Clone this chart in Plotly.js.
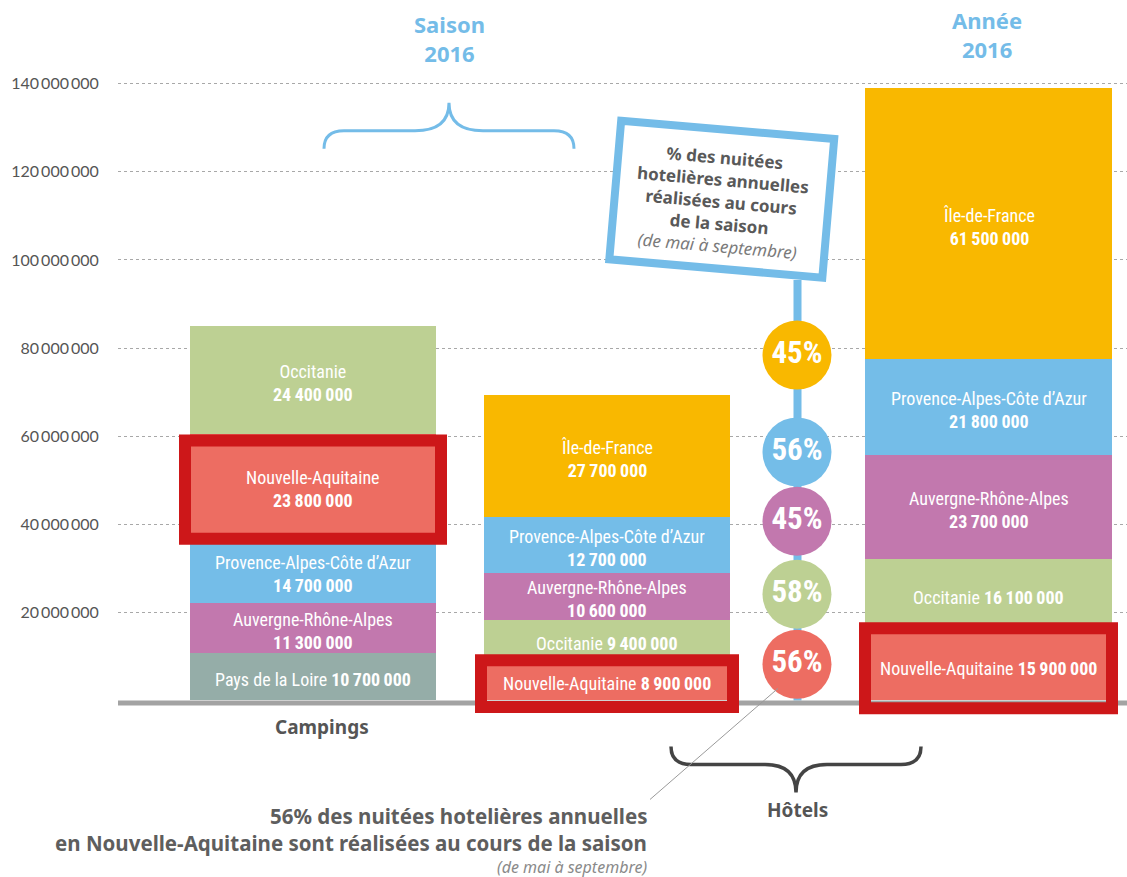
<!DOCTYPE html>
<html><head><meta charset="utf-8">
<script src="https://cdn.plot.ly/plotly-3.0.1.min.js"></script>
<style>html,body{margin:0;padding:0;background:#fff}</style>
</head><body><div id="chart" style="width:1127px;height:877px"></div>
<script>
// ---------------- DATA ----------------
const groupNames = ['Campings', 'Hôtels – saison 2016', 'Hôtels – année 2016'];
const campingsRegions = ['Pays de la Loire', 'Auvergne-Rhône-Alpes', 'Provence-Alpes-Côte d’Azur', 'Nouvelle-Aquitaine', 'Occitanie'];
const campingsValues  = [10700000, 11300000, 14700000, 23800000, 24400000];
const hotelsSaisonRegions = ['Nouvelle-Aquitaine', 'Occitanie', 'Auvergne-Rhône-Alpes', 'Provence-Alpes-Côte d’Azur', 'Île-de-France'];
const hotelsSaisonValues  = [8900000, 9400000, 10600000, 12700000, 27700000];
const hotelsAnneeRegions = ['Nouvelle-Aquitaine', 'Occitanie', 'Auvergne-Rhône-Alpes', 'Provence-Alpes-Côte d’Azur', 'Île-de-France'];
const hotelsAnneeValues  = [15900000, 16100000, 23700000, 21800000, 61500000];
const pctRegions = ['Île-de-France', 'Provence-Alpes-Côte d’Azur', 'Auvergne-Rhône-Alpes', 'Occitanie', 'Nouvelle-Aquitaine'];
const pctValues  = [45, 56, 45, 58, 56];
const highlightRegion = 'Nouvelle-Aquitaine';
const yTickVals = [20000000, 40000000, 60000000, 80000000, 100000000, 120000000, 140000000];

// ---------------- STYLE / LAYOUT CONSTANTS ----------------
const regionColors = {
  'Île-de-France': '#f9b800',
  'Provence-Alpes-Côte d’Azur': '#74bde8',
  'Auvergne-Rhône-Alpes': '#c278ae',
  'Occitanie': '#bdd093',
  'Nouvelle-Aquitaine': '#ed6d62',
  'Pays de la Loire': '#95ada8'
};
const groupRegions = [campingsRegions, hotelsSaisonRegions, hotelsAnneeRegions];
const groupValues = [campingsValues, hotelsSaisonValues, hotelsAnneeValues];
const oneLineLabels = [[true, false, false, false, false], [true, true, false, false, false], [true, true, false, false, false]];
const barCenters = [313, 607, 988.5];
const barWidths = [246, 246, 247];
const circleX = 797;
const circleY = [78.4e6, 56.4e6, 40.7e6, 24.1e6, 8.2e6];
const framePadX = [5, 3, 0];          // px beyond bar edge (stroke centre)
const framePadTop = [-1.5e6, 0.2e6, 0.5e6];
const framePadBottom = [0, 1.5e6, 1.8e6];
const FRAME_RED = '#cd1719';
const BLUE = '#74bce8';
const labelFont = "'Liberation Sans Narrow', 'Roboto Condensed', 'Arial Narrow', Roboto, sans-serif";
const headFont = "'Noto Sans', 'DejaVu Sans', sans-serif";

const PLOT = {L: 118, R: 1127, T: 75.2, B: 717.6};
const fx = x => (x - PLOT.L) / (PLOT.R - PLOT.L);
const fy = y => (PLOT.B - y) / (PLOT.B - PLOT.T);
const mapPath = s => s.replace(/(-?[\d.]+),(-?[\d.]+)/g, (m, a, b) => fx(+a).toFixed(5) + ',' + fy(+b).toFixed(5));
const fmt = v => String(v).replace(/\B(?=(\d{3})+(?!\d))/g, '\u2009');

// ---------------- TRACES ----------------
const traces = [];
for (let lvl = 0; lvl < 5; lvl++) {
  traces.push({
    type: 'bar',
    x: barCenters,
    y: groupValues.map(v => v[lvl]),
    width: barWidths,
    marker: {color: groupRegions.map(r => regionColors[r[lvl]]), line: {width: 0}},
    hoverinfo: 'skip',
    showlegend: false
  });
}
traces.push({
  type: 'scatter', mode: 'markers+text',
  x: pctValues.map(() => circleX), y: circleY,
  marker: {size: 69, color: pctRegions.map(r => regionColors[r]), line: {width: 0}},
  text: pctValues.map(v => v + '%'),
  textposition: 'middle center',
  textfont: {family: labelFont, size: 31, color: '#ffffff', weight: 'bold'},
  hoverinfo: 'skip', showlegend: false, cliponaxis: false
});

// ---------------- ANNOTATIONS ----------------
const annotations = [];
groupValues.forEach((vals, g) => {
  let base = 0;
  vals.forEach((v, i) => {
    const mid = base + v / 2;
    const name = groupRegions[g][i];
    const txt = oneLineLabels[g][i] ? name + ' <b>' + fmt(v) + '</b>' : name + '<br><b>' + fmt(v) + '</b>';
    annotations.push({x: barCenters[g], y: mid, xref: 'x', yref: 'y', showarrow: false,
      text: txt, yshift: -3,
      font: {family: labelFont, size: 18, color: '#ffffff'}});
    base += v;
  });
});
const paperAnn = (x, y, text, font, extra) => Object.assign({x: fx(x), y: fy(y), xref: 'paper', yref: 'paper',
  showarrow: false, text: text, font: font, xanchor: 'center', yanchor: 'middle'}, extra || {});
annotations.push(paperAnn(449, 39, '<b>Saison<br>2016</b>', {family: headFont, size: 22, color: BLUE}));
annotations.push(paperAnn(987, 35, '<b>Année<br>2016</b>', {family: headFont, size: 22, color: BLUE}));
annotations.push(paperAnn(322, 727, '<b>Campings</b>', {family: headFont, size: 19, color: '#555555'}));
annotations.push(paperAnn(797, 810, '<b>Hôtels</b>', {family: headFont, size: 19, color: '#555555'}));
annotations.push(paperAnn(649, 816, '<b>56% des nuitées hotelières annuelles</b>', {family: headFont, size: 20.5, color: '#5e5e5e'}, {xanchor: 'right'}));
annotations.push(paperAnn(649, 842, '<b>en Nouvelle-Aquitaine sont réalisées au cours de la saison</b>', {family: headFont, size: 20.5, color: '#5e5e5e'}, {xanchor: 'right'}));
annotations.push(paperAnn(649, 866, '<i>(de mai à septembre)</i>', {family: headFont, size: 16, color: '#8a8a8a'}, {xanchor: 'right'}));
annotations.push(paperAnn(721, 202,
  '<b>% des nuitées<br>hotelières annuelles<br>réalisées au cours<br>de la saison</b><br><i><span style="color:#7a7a7a">(de mai à septembre)</span></i>',
  {family: headFont, size: 17, color: '#595959'}, {textangle: 4.9}));

// ---------------- SHAPES ----------------
const shapes = [];
// stem of the sign
shapes.push({type: 'line', xref: 'paper', yref: 'paper', x0: fx(797.5), x1: fx(797.5), y0: fy(280), y1: fy(700),
  line: {color: BLUE, width: 8}, layer: 'between'});
// baseline
shapes.push({type: 'line', xref: 'paper', yref: 'paper', x0: 0, x1: 1, y0: fy(702.5), y1: fy(702.5),
  line: {color: '#a3a3a3', width: 5}, layer: 'above'});
// highlight frames
groupValues.forEach((vals, g) => {
  let base = 0;
  vals.forEach((v, i) => {
    if (groupRegions[g][i] === highlightRegion) {
      shapes.push({type: 'rect', xref: 'x', yref: 'y',
        x0: barCenters[g] - barWidths[g] / 2 - framePadX[g], x1: barCenters[g] + barWidths[g] / 2 + framePadX[g],
        y0: base - framePadBottom[g], y1: base + v + framePadTop[g],
        line: {color: FRAME_RED, width: 12}, fillcolor: 'rgba(0,0,0,0)', layer: 'above'});
    }
    base += v;
  });
});
// sign box (rotated rectangle)
(function () {
  const cx = 721.75, cy = 199.25, hw = 106.9, hh = 69.5, th = 4.9 * Math.PI / 180;
  const c = Math.cos(th), s = Math.sin(th);
  const pts = [[-hw, -hh], [hw, -hh], [hw, hh], [-hw, hh]].map(([dx, dy]) => [cx + dx * c - dy * s, cy + dx * s + dy * c]);
  const p = 'M' + pts.map(q => q[0].toFixed(2) + ',' + q[1].toFixed(2)).join(' L') + ' Z';
  shapes.push({type: 'path', xref: 'paper', yref: 'paper', path: mapPath(p),
    line: {color: BLUE, width: 8}, fillcolor: '#ffffff', layer: 'above'});
})();
// top brace (blue)
shapes.push({type: 'path', xref: 'paper', yref: 'paper', layer: 'above',
  path: mapPath('M324,149 Q324,131 344,131 L415,131 Q449,131 449,103 Q449,131 483,131 L554,131 Q574,131 574,149'),
  line: {color: BLUE, width: 3}});
// bottom brace (dark)
shapes.push({type: 'path', xref: 'paper', yref: 'paper', layer: 'above',
  path: mapPath('M671,746 Q671,764 691,764 L765,764 Q796,764 796,792 Q796,764 827,764 L901,764 Q921,764 921,746'),
  line: {color: '#444444', width: 3.5}});
// leader line
shapes.push({type: 'line', xref: 'paper', yref: 'paper', layer: 'above',
  x0: fx(650), y0: fy(799), x1: fx(778), y1: fy(688), line: {color: '#9a9a9a', width: 1}});

// ---------------- LAYOUT ----------------
const layout = {
  width: 1127, height: 877,
  margin: {l: PLOT.L, r: 1127 - PLOT.R, t: PLOT.T, b: 877 - PLOT.B, pad: 0},
  paper_bgcolor: '#ffffff', plot_bgcolor: '#ffffff',
  barmode: 'stack', bargap: 0,
  showlegend: false,
  xaxis: {range: [PLOT.L, PLOT.R], showgrid: false, zeroline: false, showline: false, showticklabels: false, ticks: '', fixedrange: true},
  yaxis: {range: [-4e6, 142e6], tickvals: yTickVals, ticktext: yTickVals.map(fmt),
    showgrid: true, gridcolor: '#a8a8a8', gridwidth: 1, griddash: 'dot', zeroline: false, showline: false,
    ticks: 'outside', ticklen: 15, tickcolor: 'rgba(0,0,0,0)',
    tickfont: {family: "Lato, 'Noto Sans', sans-serif", size: 16, color: '#555555'}, fixedrange: true},
  annotations: annotations,
  shapes: shapes,
  hovermode: false
};
Plotly.newPlot('chart', traces, layout, {displayModeBar: false, staticPlot: true});
</script>
</body></html>
